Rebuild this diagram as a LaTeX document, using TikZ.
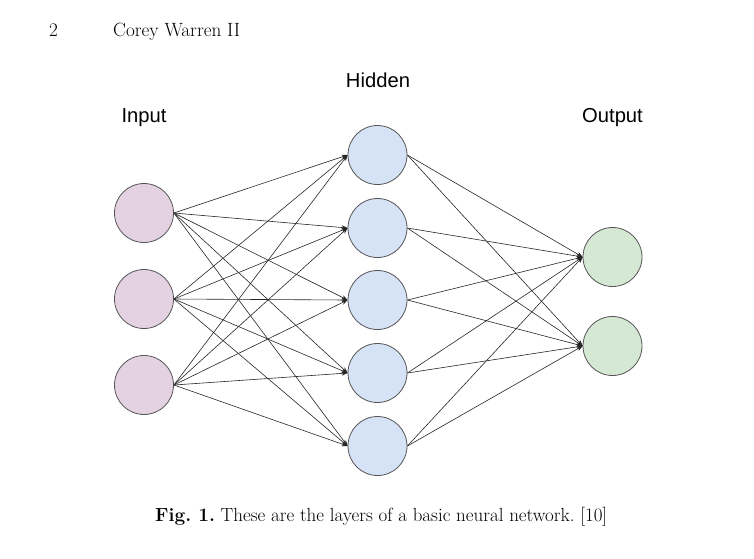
\documentclass[tikz,border=0pt]{standalone}
\usepackage{fontspec}
\newfontfamily\labelfont{Liberation Sans}
\usetikzlibrary{arrows.meta}
\definecolor{inpfill}{HTML}{E4D2E2}
\definecolor{hidfill}{HTML}{D6E3F6}
\definecolor{outfill}{HTML}{D5E8D4}
\definecolor{ringcol}{HTML}{555555}
\tikzset{
  neuron/.style={circle, draw=ringcol, line width=0.8pt, minimum size=59pt, inner sep=0pt},
  inneuron/.style={neuron, fill=inpfill},
  hidneuron/.style={neuron, fill=hidfill},
  outneuron/.style={neuron, fill=outfill},
  layerlabel/.style={font=\labelfont\fontsize{20.2}{23}\selectfont, inner sep=0pt},
  link/.style={draw=black!85, line width=0.6pt, -{Stealth[length=6pt,width=4.5pt]}},
  serif/.style={inner sep=0pt, anchor=base west}
}
\begin{document}
\begin{tikzpicture}[x=1pt,y=-1pt]
\useasboundingbox (0,0) rectangle (754,558);
\node[serif, font=\fontsize{19.2}{22}\selectfont] (pg) at (49,36) {2};
\node[serif, font=\fontsize{19.2}{22}\selectfont] (au) at (113,36) {Corey Warren II};

\node[layerlabel] (lin) at (144,118) {Input};
\node[layerlabel] (lhid) at (378,80) {Hidden};
\node[layerlabel] (lout) at (612.5,118) {Output};

\foreach \i/\y in {1/213,2/299,3/385} \node[inneuron] (i\i) at (144,\y) {};
\foreach \i/\y in {1/155,2/228,3/300,4/373,5/446} \node[hidneuron] (h\i) at (377.5,\y) {};
\foreach \i/\y in {1/257,2/346} \node[outneuron] (o\i) at (612.5,\y) {};

\foreach \a in {1,2,3} \foreach \b in {1,...,5} \draw[link] (i\a.east) -- (h\b.west);
\foreach \a in {1,...,5} \foreach \b in {1,2} \draw[link] (h\a.east) -- (o\b.west);

\node[inner sep=0pt, anchor=base west, font=\fontsize{19}{22}\selectfont\frenchspacing] (cap) at (155,521) {\textbf{Fig.~1.} These are the layers of a basic neural network. [10]};
\end{tikzpicture}
\end{document}
